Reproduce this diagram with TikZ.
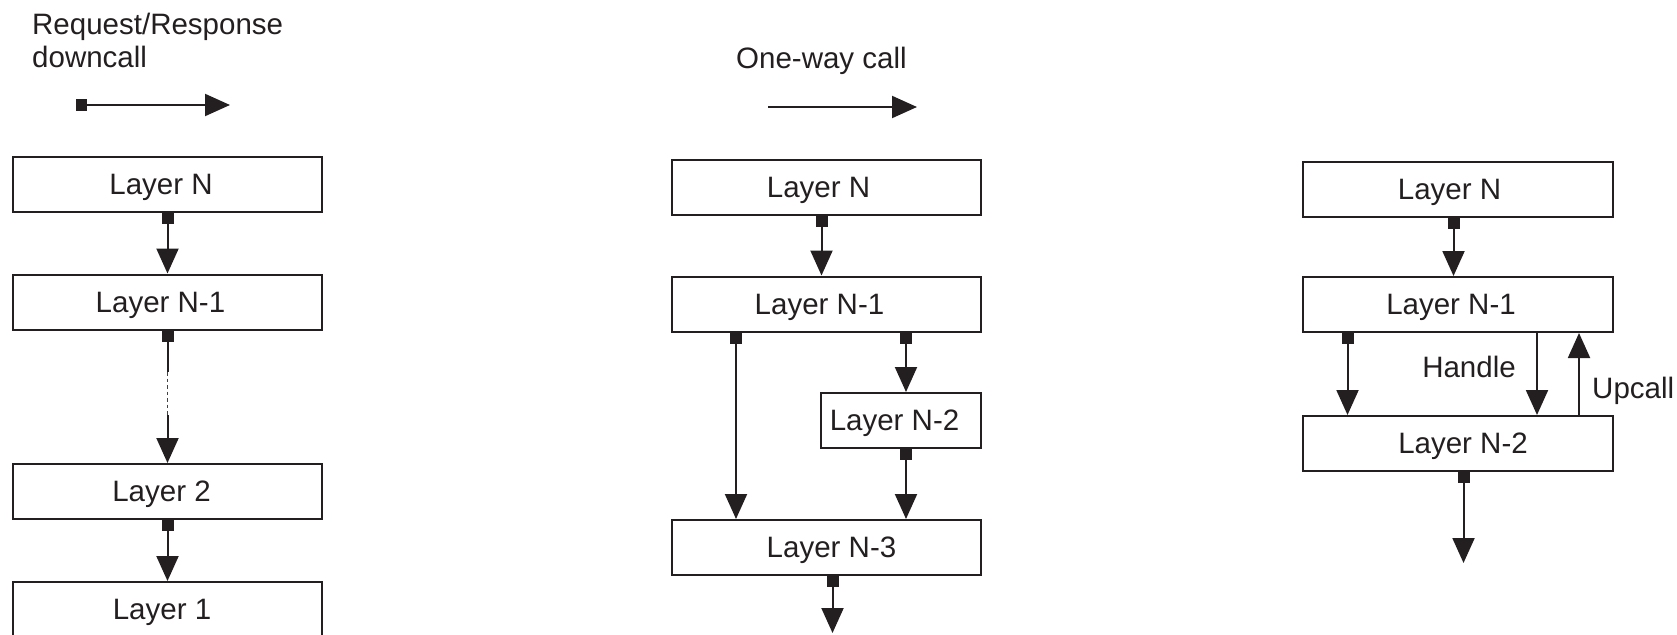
\documentclass[tikz,border=0pt]{standalone}
\usepackage{fontspec}
\setmainfont{Liberation Sans}
\usetikzlibrary{arrows.meta}
\definecolor{ink}{RGB}{35,31,32}
\tikzset{
  layerbox/.style={draw=ink, line width=2pt, minimum height=55pt, inner sep=0pt,
    text height=20pt, text depth=0pt, text=ink, font=\fontsize{29.5}{32}\selectfont},
  wide/.style={layerbox, minimum width=309pt},
  narrow/.style={layerbox, minimum width=160pt},
  tshift/.style={execute at begin node={\kern#1}, execute at end node={\kern-#1}},
  lbl/.style={inner sep=0pt, text=ink, font=\fontsize{29.5}{32}\selectfont},
  call/.style={draw=ink, line width=2pt, {Square[length=11pt,width=12pt]}-{Triangle[length=25pt,width=22pt]}},
  oneway/.style={draw=ink, line width=2pt, -{Triangle[length=25pt,width=22pt]}},
  sqstart/.style={draw=ink, line width=2pt, {Square[length=11pt,width=12pt]}-},
  dots/.style={draw=ink!85, line width=1.8pt, dash pattern=on 3.5pt off 3pt}
}
\begin{document}
\begin{tikzpicture}[x=1pt,y=-1pt]
\useasboundingbox (0,0) rectangle (1677,634);

% ---- column 1: request/response downcall
\node[lbl, anchor=base west] (t1a) at (32,35) {Request/Response};
\node[lbl, anchor=base west] (t1b) at (32,67) {downcall};
\coordinate (lg1s) at (76,105);
\coordinate (lg1e) at (230,105);
\draw[call] (lg1s) -- (lg1e);

\node[wide, tshift=-6.5pt] (a1) at (167.5,184.5) {Layer N};
\node[wide, tshift=-7pt] (a2) at (167.5,302) {Layer N-1};
\node[wide, tshift=-6pt] (a3) at (167.5,491.5) {Layer 2};
\node[wide, tshift=-5.5pt] (a4) at (167.5,609.5) {Layer 1};
\coordinate (d1) at (167.5,372);
\coordinate (d2) at (167.5,415);
\draw[call] (a1.south) -- (a2.north);
\draw[sqstart] (a2.south) -- (d1);
\draw[dots] (d1) -- (d2);
\draw[oneway] (d2) -- (a3.north);
\draw[call] (a3.south) -- (a4.north);

% ---- column 2: one-way call
\node[lbl, anchor=base west] (t2) at (736,68) {One-way call};
\coordinate (lg2s) at (768,107);
\coordinate (lg2e) at (917,107);
\draw[oneway] (lg2s) -- (lg2e);

\node[wide, tshift=-8pt] (b1) at (826.5,187) {Layer N};
\node[wide, tshift=-7pt] (b2) at (826.5,304) {Layer N-1};
\node[narrow, tshift=-6.5pt] (b3) at (901,420.5) {Layer N-2};
\node[wide, tshift=5pt] (b4) at (826.5,547.5) {Layer N-3};
\coordinate (b5) at (832.5,633);
\draw[call] ([xshift=-5pt]b1.south) -- ([xshift=-5pt]b2.north);
\draw[call] ([xshift=-90.5pt]b2.south) -- ([xshift=-90.5pt]b4.north);
\draw[call] ([xshift=79.5pt]b2.south) -- ([xshift=5pt]b3.north);
\draw[call] ([xshift=5pt]b3.south) -- ([xshift=79.5pt]b4.north);
\draw[call] ([xshift=6pt]b4.south) -- (b5);

% ---- column 3: upcall
\node[wide, minimum width=310pt, tshift=-8.5pt] (c1) at (1458,189) {Layer N};
\node[wide, minimum width=310pt, tshift=-7pt] (c2) at (1458,304.5) {Layer N-1};
\node[wide, minimum width=310pt, tshift=5pt] (c3) at (1458,443.5) {Layer N-2};
\coordinate (c4) at (1463.5,563);
\draw[call] ([xshift=-4.5pt]c1.south) -- ([xshift=-4.5pt]c2.north);
\draw[call] ([xshift=-110.5pt]c2.south) -- ([xshift=-110.5pt]c3.north);
\draw[oneway] ([xshift=79pt]c2.south) -- ([xshift=79pt]c3.north);
\draw[oneway] ([xshift=121pt]c3.north) -- ([xshift=121pt]c2.south);
\draw[call] ([xshift=5.5pt]c3.south) -- (c4);
\node[lbl, anchor=base] (h) at (1469,377) {Handle};
\node[lbl, anchor=base west] (u) at (1592,398) {Upcall};
\end{tikzpicture}
\end{document}
